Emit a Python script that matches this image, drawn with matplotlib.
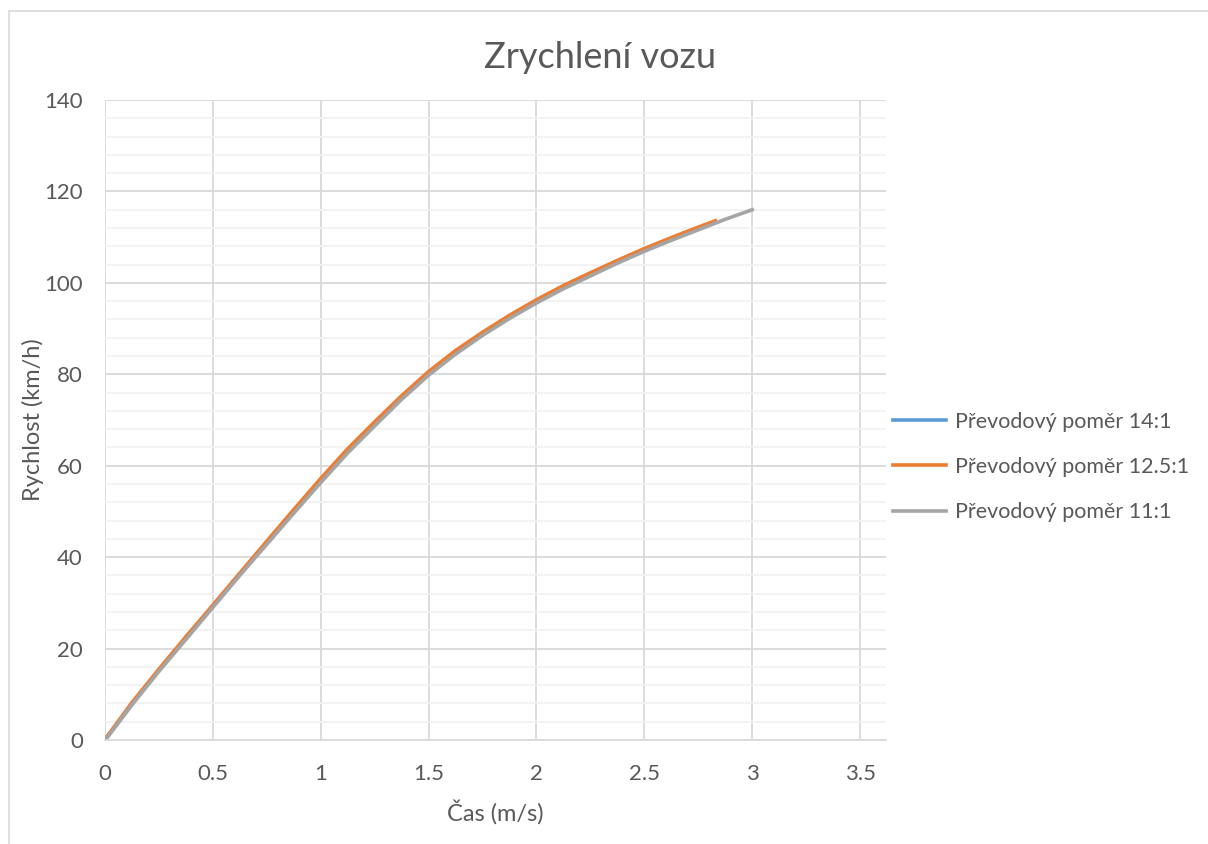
import matplotlib.pyplot as plt
from matplotlib.patches import Rectangle
from matplotlib.ticker import MultipleLocator

plt.rcParams["font.family"] = ["Lato", "DejaVu Sans"]

# time (s) and speed (km/h)
t_14 = [0, 0.125, 0.25, 0.375, 0.5, 0.625, 0.75, 0.875, 1.0, 1.125, 1.25, 1.375,
        1.5, 1.625, 1.75, 1.875, 2.0, 2.125, 2.25, 2.375, 2.5, 2.6, 2.7]
v_14 = [0, 7.8, 15.3, 22.4, 29.4, 36.4, 43.3, 50.2, 57.0, 63.5, 69.4, 75.2,
        80.4, 85.0, 89.0, 92.8, 96.2, 99.3, 102.1, 104.8, 107.4, 109.3, 111.1]

t_125 = [0.01, 0.125, 0.25, 0.375, 0.5, 0.625, 0.75, 0.875, 1.0, 1.125, 1.25, 1.375,
         1.5, 1.625, 1.75, 1.875, 2.0, 2.125, 2.25, 2.375, 2.5, 2.625, 2.75, 2.83]
v_125 = [0.8, 8.2, 15.5, 22.6, 29.5, 36.5, 43.5, 50.4, 57.2, 63.7, 69.6, 75.3,
         80.6, 85.2, 89.2, 92.9, 96.3, 99.4, 102.2, 104.9, 107.5, 109.9, 112.2, 113.6]

t_11 = [0.01, 0.125, 0.25, 0.375, 0.5, 0.625, 0.75, 0.875, 1.0, 1.125, 1.25, 1.375,
        1.5, 1.625, 1.75, 1.875, 2.0, 2.125, 2.25, 2.375, 2.5, 2.625, 2.75, 2.875, 3.0]
v_11 = [0.5, 7.7, 15.0, 22.0, 29.0, 36.0, 42.8, 49.6, 56.3, 62.8, 68.7, 74.5,
        79.8, 84.4, 88.5, 92.2, 95.6, 98.7, 101.5, 104.3, 106.9, 109.3, 111.6, 113.9, 116.0]

labels = ["Převodový poměr 14:1", "Převodový poměr 12.5:1", "Převodový poměr 11:1"]
colors = ["#5b9bd5", "#ed7d31", "#a5a5a5"]
text_color = "#595959"

fig = plt.figure(figsize=(12.08, 8.44), dpi=100)
ax = fig.add_axes([0.0869, 0.1232, 0.6465, 0.7583])

# outer chart border like in Excel
fig.patches.append(Rectangle((9 / 1208, -0.1), 1.2, 1 - 11 / 844 + 0.1,
                             transform=fig.transFigure, fill=False,
                             edgecolor="#d9d9d9", linewidth=1.2))

ax.plot(t_14, v_14, color=colors[0], linewidth=2.6, label=labels[0])
ax.plot(t_125, v_125, color=colors[1], linewidth=2.6, label=labels[1])
ax.plot(t_11, v_11, color=colors[2], linewidth=2.6, label=labels[2])

ax.set_xlim(0, 3.62)
ax.set_ylim(0, 140)
ax.yaxis.set_major_locator(MultipleLocator(20))
ax.yaxis.set_minor_locator(MultipleLocator(4))
ax.set_xticks([0, 0.5, 1, 1.5, 2, 2.5, 3, 3.5])
ax.set_xticklabels(["0", "0.5", "1", "1.5", "2", "2.5", "3", "3.5"])

ax.grid(which="major", color="#d9d9d9", linewidth=1.3)
ax.grid(which="minor", axis="y", color="#f2f2f2", linewidth=1.3)
ax.set_axisbelow(True)
for s in ["top", "right", "left"]:
    ax.spines[s].set_visible(False)
ax.spines["bottom"].set_color("#d9d9d9")
ax.spines["bottom"].set_linewidth(1.3)
ax.tick_params(which="both", length=0, labelsize=16, labelcolor=text_color)
ax.tick_params(axis="x", pad=17)
ax.tick_params(axis="y", pad=16)

fig.text(600 / 1208, 1 - 57 / 844, "Zrychlení vozu", fontsize=26,
         color=text_color, ha="center", va="center")
fig.text(495.5 / 1208, 1 - 812 / 844, "Čas (m/s)", fontsize=17,
         color=text_color, ha="center", va="center")
fig.text(33 / 1208, 1 - 420 / 844, "Rychlost (km/h)", fontsize=17,
         color=text_color, ha="center", va="center", rotation=90)

ax.legend(loc="center left", bbox_to_anchor=(1.0, 0.4266), frameon=False,
          fontsize=15.5, labelcolor=text_color, handlelength=2.45,
          handletextpad=0.42, labelspacing=1.18, borderaxespad=0.0,
          borderpad=0.35)

plt.savefig("out.png", dpi=100)
plt.close()
